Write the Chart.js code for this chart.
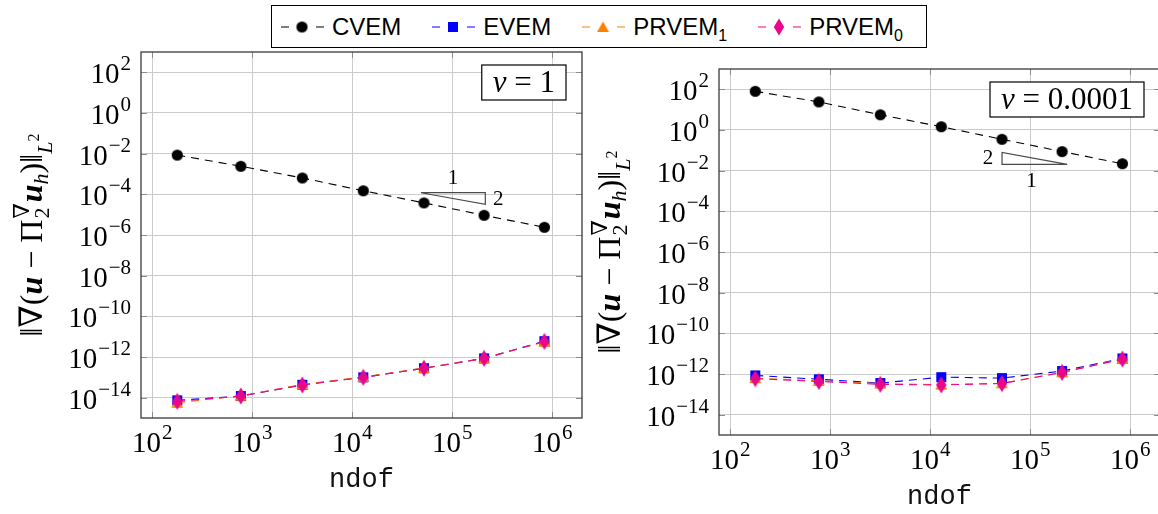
<!DOCTYPE html>
<html lang="en">
<head>
<meta charset="UTF-8">
<title>Gradient projection error vs ndof</title>
<script src="https://cdn.jsdelivr.net/npm/chart.js"></script>
<style>
  body { margin: 0; background: #fff; width: 1158px; height: 514px; overflow: hidden; position: relative; }
  .plot { position: absolute; }
  #chartLeft { left: 0; top: 0; }
  #chartRight { left: 578px; top: 17px; }
  #legend {
    position: absolute; left: 271px; top: 5px; width: 656px; height: 43px;
    box-sizing: border-box; border: 1px solid #000; background: #fff;
    display: flex; align-items: center; padding-left: 8px;
    font-family: 'Liberation Sans', Arial, sans-serif; font-size: 24px; color: #000;
  }
  .item { display: flex; align-items: center; margin-right: 30px; }
  .item canvas { margin-right: 8px; }
  .item sub { font-size: 16px; vertical-align: -6px; line-height: 0; }
</style>
</head>
<body>
<canvas id="chartLeft" class="plot" width="600" height="514"></canvas>
<canvas id="chartRight" class="plot" width="600" height="514"></canvas>
<div id="legend"></div>

<script>
// ---- data ----
const ndof = [178, 770, 3170, 12900, 52100, 208000, 834000];

// nu = 1
const cvemNu1   = [8.5e-3, 2.4e-3, 6.4e-4, 1.5e-4, 3.8e-5, 9.3e-6, 2.4e-6];
const evemNu1   = [7.4e-15, 1.2e-14, 4.3e-14, 1.0e-13, 2.8e-13, 8.6e-13, 6.0e-12];
const prvem1Nu1 = [5.6e-15, 1.25e-14, 4.4e-14, 1.05e-13, 2.9e-13, 8.5e-13, 5.6e-12];
const prvem0Nu1 = [6.6e-15, 1.2e-14, 4.2e-14, 1.0e-13, 2.8e-13, 8.6e-13, 5.8e-12];

// nu = 0.0001
const cvemNu2   = [80, 24, 5.6, 1.45, 0.35, 0.087, 0.022];
const evemNu2   = [8.5e-13, 5.5e-13, 3.6e-13, 7.0e-13, 6.3e-13, 1.4e-12, 5.8e-12];
const prvem1Nu2 = [6.3e-13, 4.6e-13, 3.4e-13, 3.0e-13, 3.5e-13, 1.2e-12, 5.5e-12];
const prvem0Nu2 = [5.9e-13, 4.3e-13, 3.1e-13, 2.9e-13, 3.4e-13, 1.2e-12, 5.4e-12];

const seriesNames = ['CVEM', 'EVEM', 'PRVEM', 'PRVEM'];
const seriesSubs  = ['', '', '1', '0'];
const seriesColors = ['#000000', '#0000ff', '#ff8000', '#e8078c'];
const markerShapes = ['circle', 'square', 'triangle', 'diamond'];

const xTickExps = [2, 3, 4, 5, 6];
const yTickExps = [-14, -12, -10, -8, -6, -4, -2, 0, 2];

// slope triangles in data coordinates
const triNu1 = { x0: 48600, x1: 214000, yHi: 1.2e-4, yLo: 3.2e-5, kind: 'top' };
const triNu2 = { x0: 52200, x1: 234000, yHi: 0.079, yLo: 0.0204, kind: 'bottom' };

const SERIF = "'Liberation Serif', 'DejaVu Serif', serif";

// ---- marker images ----
function makeMarker(shape, color) {
  const c = document.createElement('canvas');
  const g = c.getContext('2d');
  if (shape === 'circle') {
    c.width = 13; c.height = 13;
    g.fillStyle = color; g.beginPath(); g.arc(6.5, 6.5, 5.6, 0, Math.PI * 2); g.fill();
  } else if (shape === 'square') {
    c.width = 12; c.height = 12;
    g.fillStyle = color; g.fillRect(1, 1, 10, 10);
  } else if (shape === 'triangle') {
    c.width = 13; c.height = 12;
    g.fillStyle = color; g.beginPath(); g.moveTo(6.5, 0.5); g.lineTo(12.5, 11); g.lineTo(0.5, 11); g.closePath(); g.fill();
  } else {
    c.width = 12; c.height = 18;
    g.fillStyle = color; g.beginPath(); g.moveTo(6, 0.5); g.lineTo(11.2, 9); g.lineTo(6, 17.5); g.lineTo(0.8, 9); g.closePath(); g.fill();
  }
  return c;
}
const markers = markerShapes.map((s, i) => makeMarker(s, seriesColors[i]));

// ---- legend ----
const legendEl = document.getElementById('legend');
seriesNames.forEach((name, i) => {
  const item = document.createElement('div');
  item.className = 'item';
  const sw = document.createElement('canvas');
  sw.width = 44; sw.height = 22;
  const g = sw.getContext('2d');
  g.strokeStyle = seriesColors[i]; g.lineWidth = 1.1;
  g.setLineDash([8, 27]);
  g.beginPath(); g.moveTo(1, 11); g.lineTo(44, 11); g.stroke();
  const m = markers[i];
  g.drawImage(m, 22 - m.width / 2, 11 - m.height / 2);
  item.appendChild(sw);
  const span = document.createElement('span');
  span.textContent = name;
  if (seriesSubs[i]) {
    const sub = document.createElement('sub');
    sub.textContent = seriesSubs[i];
    span.appendChild(sub);
  }
  item.appendChild(span);
  legendEl.appendChild(item);
});

// ---- text helpers ----
function drawPow(ctx, exp, x, y, align) {
  const F = 29, FS = 21;
  const base = '10';
  const sup = exp < 0 ? '\u2212' + (-exp) : String(exp);
  ctx.font = F + 'px ' + SERIF;
  const wb = ctx.measureText(base).width;
  ctx.font = FS + 'px ' + SERIF;
  const ws = ctx.measureText(sup).width;
  const total = wb + 1 + ws;
  const left = align === 'right' ? x - total : x - total / 2;
  ctx.textAlign = 'left';
  ctx.textBaseline = 'alphabetic';
  ctx.font = F + 'px ' + SERIF;
  ctx.fillText(base, left, y);
  ctx.font = FS + 'px ' + SERIF;
  ctx.fillText(sup, left + wb + 1, y - 13);
}

const yTitlePieces = [
  { t: '\u2016\u2207(' },
  { t: 'u', st: 'bold italic ' },
  { t: ' \u2212 \u03A0' },
  { sub: '2', sup: '\u2207' },
  { t: 'u', st: 'bold italic ' },
  { t: 'h', st: 'italic ', sc: 0.7, dy: 0.2 },
  { t: ')\u2016' },
  { t: 'L', st: 'italic ', sc: 0.7, dy: 0.3 },
  { t: '2', sc: 0.5, dy: -0.08 }
];

function richText(ctx, pieces, F, x0, y0, draw) {
  let x = x0;
  ctx.textAlign = 'left';
  ctx.textBaseline = 'alphabetic';
  pieces.forEach(p => {
    if (p.sub !== undefined) {
      ctx.font = Math.round(F * 0.7) + 'px ' + SERIF;
      const w1 = ctx.measureText(p.sub).width;
      const w2 = ctx.measureText(p.sup).width;
      if (draw) {
        ctx.fillText(p.sub, x + 1, y0 + F * 0.22);
        ctx.fillText(p.sup, x + 1, y0 - F * 0.42);
      }
      x += Math.max(w1, w2) + 2;
      return;
    }
    const size = Math.round(F * (p.sc || 1));
    ctx.font = (p.st || '') + size + 'px ' + SERIF;
    if (draw) ctx.fillText(p.t, x, y0 + F * (p.dy || 0));
    x += ctx.measureText(p.t).width;
  });
  return x - x0;
}

// ---- per-chart decorations ----
function decorPlugin(nuText, tri) {
  return {
    id: 'decor',
    afterDraw(chart) {
      const ctx = chart.ctx;
      const a = chart.chartArea;
      const xs = chart.scales.x, ys = chart.scales.y;
      ctx.save();

      // inner tick marks
      ctx.strokeStyle = '#8c8c8c'; ctx.lineWidth = 1;
      ctx.beginPath();
      xTickExps.forEach(e => {
        const px = Math.round(xs.getPixelForValue(Math.pow(10, e))) + 0.5;
        ctx.moveTo(px, a.bottom); ctx.lineTo(px, a.bottom - 6);
        ctx.moveTo(px, a.top); ctx.lineTo(px, a.top + 6);
      });
      yTickExps.forEach(e => {
        const py = Math.round(ys.getPixelForValue(Math.pow(10, e))) + 0.5;
        ctx.moveTo(a.left, py); ctx.lineTo(a.left + 6, py);
        ctx.moveTo(a.right, py); ctx.lineTo(a.right - 6, py);
      });
      ctx.stroke();

      // axis box
      ctx.strokeStyle = '#3a3a3a'; ctx.lineWidth = 1.3;
      ctx.strokeRect(a.left, a.top, a.right - a.left, a.bottom - a.top);

      // tick labels
      ctx.fillStyle = '#000';
      xTickExps.forEach(e => drawPow(ctx, e, xs.getPixelForValue(Math.pow(10, e)), a.bottom + 34, 'center'));
      yTickExps.forEach(e => drawPow(ctx, e, a.left - 10, ys.getPixelForValue(Math.pow(10, e)) + 11, 'right'));

      // y axis title (rotated)
      const F = 32;
      const w = richText(ctx, yTitlePieces, F, 0, 0, false);
      ctx.save();
      ctx.translate(a.left - 109, (a.top + a.bottom) / 2);
      ctx.rotate(-Math.PI / 2);
      richText(ctx, yTitlePieces, F, -w / 2, 10, true);
      ctx.restore();

      // nu box
      ctx.font = 'italic 31px ' + SERIF;
      const wNu = ctx.measureText('\u03BD').width;
      ctx.font = '31px ' + SERIF;
      const wRest = ctx.measureText(' = ' + nuText).width;
      const bw = wNu + wRest + 22, bh = 35;
      const bx = a.right - 16 - bw, by = a.top + 13;
      ctx.fillStyle = '#fff';
      ctx.fillRect(bx, by, bw, bh);
      ctx.strokeStyle = '#000'; ctx.lineWidth = 1.2;
      ctx.strokeRect(bx, by, bw, bh);
      ctx.fillStyle = '#000';
      ctx.textAlign = 'left'; ctx.textBaseline = 'alphabetic';
      ctx.font = 'italic 31px ' + SERIF;
      ctx.fillText('\u03BD', bx + 11, by + 27);
      ctx.font = '31px ' + SERIF;
      ctx.fillText(' = ' + nuText, bx + 11 + wNu, by + 27);

      // slope triangle
      const x0 = xs.getPixelForValue(tri.x0), x1 = xs.getPixelForValue(tri.x1);
      const yH = ys.getPixelForValue(tri.yHi), yL = ys.getPixelForValue(tri.yLo);
      ctx.strokeStyle = '#4a4a4a'; ctx.lineWidth = 1.2;
      ctx.beginPath();
      ctx.font = '21px ' + SERIF;
      ctx.textAlign = 'center'; ctx.textBaseline = 'middle';
      if (tri.kind === 'top') {
        ctx.moveTo(x0, yH); ctx.lineTo(x1, yH); ctx.lineTo(x1, yL); ctx.closePath();
        ctx.stroke();
        ctx.fillText('1', (x0 + x1) / 2, yH - 14);
        ctx.fillText('2', x1 + 13, (yH + yL) / 2 + 1);
      } else {
        ctx.moveTo(x0, yH); ctx.lineTo(x0, yL); ctx.lineTo(x1, yL); ctx.closePath();
        ctx.stroke();
        ctx.fillText('2', x0 - 14, (yH + yL) / 2);
        ctx.fillText('1', (x0 + x1) / 2 - 3, yL + 17);
      }
      ctx.restore();
    }
  };
}

function makeChart(id, seriesData, nuText, tri) {
  const datasets = seriesData.map((vals, i) => ({
    label: seriesNames[i] + seriesSubs[i],
    data: ndof.map((x, k) => ({ x: x, y: vals[k] })),
    borderColor: seriesColors[i],
    backgroundColor: seriesColors[i],
    borderWidth: 1.1,
    borderDash: [8, 6],
    pointStyle: markers[i],
    pointRadius: 5,
    fill: false,
    tension: 0,
    order: 3 - i
  }));

  return new Chart(document.getElementById(id), {
    type: 'line',
    data: { datasets: datasets },
    options: {
      responsive: false,
      animation: false,
      events: [],
      layout: { padding: { top: 52, right: 18, left: 0, bottom: 0 } },
      plugins: { legend: { display: false }, tooltip: { enabled: false } },
      scales: {
        x: {
          type: 'logarithmic',
          min: Math.pow(10, 1.888),
          max: Math.pow(10, 6.297),
          afterBuildTicks: s => { s.ticks = xTickExps.map(e => ({ value: Math.pow(10, e) })); },
          afterFit: s => { s.height = 96; },
          ticks: { display: false, autoSkip: false },
          grid: { color: '#cbcbcb', lineWidth: 1, drawTicks: false },
          border: { display: false },
          title: {
            display: true, text: 'ndof', color: '#111',
            font: { family: "'Liberation Mono', 'DejaVu Sans Mono', monospace", size: 27 },
            padding: { top: 0, bottom: 18 }
          }
        },
        y: {
          type: 'logarithmic',
          min: 1e-15,
          max: 1e3,
          afterBuildTicks: s => { s.ticks = yTickExps.map(e => ({ value: Math.pow(10, e) })); },
          afterFit: s => { s.width = 141; },
          ticks: { display: false, autoSkip: false },
          grid: { color: '#cbcbcb', lineWidth: 1, drawTicks: false },
          border: { display: false }
        }
      }
    },
    plugins: [decorPlugin(nuText, tri)]
  });
}

makeChart('chartLeft', [cvemNu1, evemNu1, prvem1Nu1, prvem0Nu1], '1', triNu1);
makeChart('chartRight', [cvemNu2, evemNu2, prvem1Nu2, prvem0Nu2], '0.0001', triNu2);
</script>
</body>
</html>
